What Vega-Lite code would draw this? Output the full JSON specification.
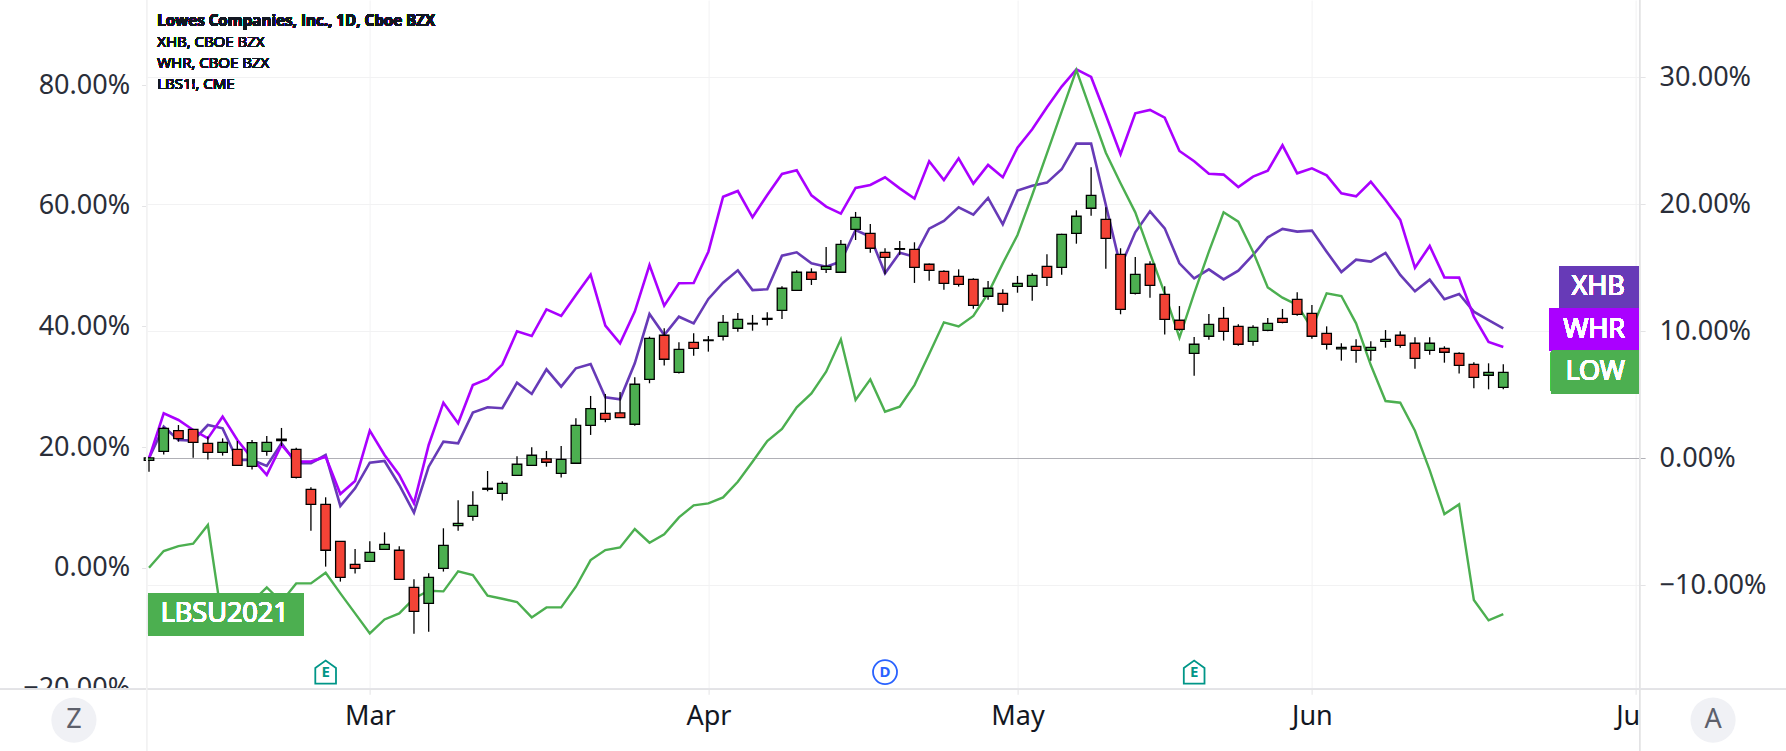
{"$schema":"https://vega.github.io/schema/vega-lite/v6.json","width":1493,"height":689.3,"autosize":{"type":"none"},"padding":{"left":146.6,"top":0,"right":146.4,"bottom":61.7},"background":"#ffffff","config":{"view":{"stroke":null},"font":"Noto Sans","axis":{"labelFont":"Noto Sans"}},"datasets":{"bars":[
{"bar":0,"date":"2021-02-05","open":-0.16,"high":0.08,"low":-1.05,"close":0.03,"xhb":0,"whr":0,"lbs":0},
{"bar":1,"date":"2021-02-08","open":0.55,"high":2.44,"low":0.29,"close":2.36,"xhb":2.49,"whr":3.54,"lbs":2.76},
{"bar":2,"date":"2021-02-09","open":2.18,"high":2.62,"low":1.31,"close":1.55,"xhb":1.44,"whr":3.02,"lbs":3.59},
{"bar":3,"date":"2021-02-10","open":2.28,"high":2.31,"low":0.05,"close":1.26,"xhb":1.39,"whr":2.23,"lbs":3.98},
{"bar":4,"date":"2021-02-11","open":1.18,"high":1.71,"low":-0.1,"close":0.47,"xhb":2.62,"whr":1.57,"lbs":7.08},
{"bar":5,"date":"2021-02-12","open":0.47,"high":1.57,"low":0.21,"close":1.26,"xhb":2.36,"whr":3.28,"lbs":-9.23},
{"bar":6,"date":"2021-02-16","open":0.71,"high":1.36,"low":-0.55,"close":-0.55,"xhb":-0.13,"whr":1.44,"lbs":-7.57},
{"bar":7,"date":"2021-02-17","open":-0.63,"high":1.44,"low":-0.89,"close":1.23,"xhb":-0.13,"whr":0,"lbs":-5.64},
{"bar":8,"date":"2021-02-18","open":0.55,"high":1.76,"low":0.21,"close":1.26,"xhb":-0.6,"whr":-1.31,"lbs":-3.26},
{"bar":9,"date":"2021-02-19","open":1.39,"high":2.39,"low":0.97,"close":1.5,"xhb":1.18,"whr":1.05,"lbs":-5.64},
{"bar":10,"date":"2021-02-22","open":0.71,"high":0.84,"low":-1.6,"close":-1.5,"xhb":-0.39,"whr":-0.26,"lbs":-2.6},
{"bar":11,"date":"2021-02-23","open":-2.44,"high":-2.28,"low":-5.7,"close":-3.62,"xhb":-0.39,"whr":-0.26,"lbs":-2.6},
{"bar":12,"date":"2021-02-24","open":-3.62,"high":-3.07,"low":-8.53,"close":-7.24,"xhb":0.26,"whr":0.13,"lbs":-0.83},
{"bar":13,"date":"2021-02-25","open":-6.54,"high":-6.54,"low":-9.71,"close":-9.37,"xhb":-3.75,"whr":-2.81,"lbs":-4.26},
{"bar":14,"date":"2021-02-26","open":-8.35,"high":-7.14,"low":-9.08,"close":-8.66,"xhb":-2.36,"whr":-1.78,"lbs":-7.57},
{"bar":15,"date":"2021-03-01","open":-8.11,"high":-6.54,"low":-8.11,"close":-7.4,"xhb":-0.34,"whr":2.18,"lbs":-10.89},
{"bar":16,"date":"2021-03-02","open":-7.17,"high":-5.83,"low":-7.17,"close":-6.77,"xhb":-0.21,"whr":0.26,"lbs":-8.57},
{"bar":17,"date":"2021-03-03","open":-7.24,"high":-6.93,"low":-9.53,"close":-9.53,"xhb":-2.1,"whr":-1.31,"lbs":-7.57},
{"bar":18,"date":"2021-03-04","open":-10.16,"high":-9.53,"low":-13.81,"close":-12.05,"xhb":-4.28,"whr":-3.54,"lbs":-5.09},
{"bar":19,"date":"2021-03-05","open":-11.42,"high":-9.06,"low":-13.65,"close":-9.37,"xhb":-0.66,"whr":1.05,"lbs":-3.81},
{"bar":20,"date":"2021-03-08","open":-8.66,"high":-5.51,"low":-8.92,"close":-6.85,"xhb":1.31,"whr":4.38,"lbs":-3.92},
{"bar":21,"date":"2021-03-09","open":-5.3,"high":-3.31,"low":-5.7,"close":-5.12,"xhb":1.18,"whr":2.76,"lbs":-0.61},
{"bar":22,"date":"2021-03-10","open":-4.57,"high":-2.6,"low":-4.91,"close":-3.7,"xhb":3.6,"whr":5.77,"lbs":-1.22},
{"bar":23,"date":"2021-03-11","open":-2.44,"high":-1,"low":-2.6,"close":-2.36,"xhb":4.02,"whr":6.25,"lbs":-4.64},
{"bar":24,"date":"2021-03-12","open":-2.76,"high":-1.81,"low":-3.33,"close":-1.97,"xhb":3.94,"whr":7.38,"lbs":-5.14},
{"bar":25,"date":"2021-03-15","open":-1.34,"high":0.16,"low":-1.34,"close":-0.47,"xhb":5.96,"whr":10,"lbs":-5.69},
{"bar":26,"date":"2021-03-16","open":-0.55,"high":0.87,"low":-0.55,"close":0.24,"xhb":5.07,"whr":9.63,"lbs":-8.24},
{"bar":27,"date":"2021-03-17","open":-0.05,"high":0.58,"low":-0.66,"close":-0.31,"xhb":7.01,"whr":11.73,"lbs":-6.58},
{"bar":28,"date":"2021-03-18","open":-1.18,"high":0.97,"low":-1.52,"close":-0.08,"xhb":5.64,"whr":11.21,"lbs":-6.58},
{"bar":29,"date":"2021-03-19","open":-0.39,"high":3.15,"low":-0.39,"close":2.6,"xhb":7.09,"whr":12.86,"lbs":-3.15},
{"bar":30,"date":"2021-03-22","open":2.6,"high":4.91,"low":1.84,"close":3.91,"xhb":7.43,"whr":14.46,"lbs":1.27},
{"bar":31,"date":"2021-03-23","open":3.54,"high":5.07,"low":2.83,"close":3.07,"xhb":4.8,"whr":10.45,"lbs":2.93},
{"bar":32,"date":"2021-03-24","open":3.57,"high":5.22,"low":3.2,"close":3.2,"xhb":4.65,"whr":9.06,"lbs":3.37},
{"bar":33,"date":"2021-03-25","open":2.68,"high":6.38,"low":2.57,"close":5.83,"xhb":7.48,"whr":11.55,"lbs":6.41},
{"bar":34,"date":"2021-03-26","open":6.22,"high":9.58,"low":5.91,"close":9.45,"xhb":11.36,"whr":15.22,"lbs":4.15},
{"bar":35,"date":"2021-03-29","open":9.69,"high":10.24,"low":7.3,"close":7.8,"xhb":9.71,"whr":12.02,"lbs":5.53},
{"bar":36,"date":"2021-03-30","open":6.77,"high":9.13,"low":6.67,"close":8.58,"xhb":11.15,"whr":13.78,"lbs":8.35},
{"bar":37,"date":"2021-03-31","open":9.13,"high":9.84,"low":8.08,"close":8.66,"xhb":10.63,"whr":13.81,"lbs":10.34},
{"bar":38,"date":"2021-04-01","open":9.27,"high":9.63,"low":8.4,"close":9.32,"xhb":12.55,"whr":16.27,"lbs":10.67},
{"bar":39,"date":"2021-04-05","open":9.61,"high":11.29,"low":9.27,"close":10.71,"xhb":13.83,"whr":20.6,"lbs":11.66},
{"bar":40,"date":"2021-04-06","open":10.24,"high":11.44,"low":9.97,"close":10.94,"xhb":14.8,"whr":21.05,"lbs":14.26},
{"bar":41,"date":"2021-04-07","open":10.58,"high":11.29,"low":10.05,"close":10.63,"xhb":13.25,"whr":18.98,"lbs":17.58},
{"bar":42,"date":"2021-04-08","open":10.94,"high":11.5,"low":10.45,"close":11.02,"xhb":13.31,"whr":20.74,"lbs":21.01},
{"bar":43,"date":"2021-04-09","open":11.65,"high":13.54,"low":10.97,"close":13.39,"xhb":15.96,"whr":22.39,"lbs":23},
{"bar":44,"date":"2021-04-12","open":13.23,"high":14.8,"low":13.23,"close":14.65,"xhb":16.22,"whr":22.68,"lbs":26.59},
{"bar":45,"date":"2021-04-13","open":14.65,"high":14.96,"low":13.65,"close":14.09,"xhb":15.35,"whr":20.71,"lbs":28.91},
{"bar":46,"date":"2021-04-14","open":14.88,"high":16.64,"low":14.59,"close":15.12,"xhb":15.09,"whr":19.82,"lbs":32.5},
{"bar":47,"date":"2021-04-15","open":14.65,"high":17.19,"low":14.65,"close":16.85,"xhb":15.49,"whr":19.27,"lbs":37.87},
{"bar":48,"date":"2021-04-16","open":18.03,"high":19.4,"low":17.19,"close":18.98,"xhb":17.98,"whr":21.29,"lbs":27.81},
{"bar":49,"date":"2021-04-19","open":17.72,"high":18.45,"low":16.19,"close":16.54,"xhb":17.45,"whr":21.52,"lbs":31.23},
{"bar":50,"date":"2021-04-20","open":16.22,"high":16.54,"low":14.49,"close":15.83,"xhb":14.57,"whr":22.13,"lbs":25.87},
{"bar":51,"date":"2021-04-21","open":16.46,"high":17.11,"low":16.01,"close":16.51,"xhb":16.19,"whr":21.26,"lbs":26.7},
{"bar":52,"date":"2021-04-22","open":16.46,"high":17.01,"low":13.81,"close":15.04,"xhb":15.88,"whr":20.45,"lbs":30.29},
{"bar":53,"date":"2021-04-23","open":15.28,"high":15.35,"low":13.99,"close":14.8,"xhb":18.08,"whr":23.39,"lbs":35.43},
{"bar":54,"date":"2021-04-26","open":14.72,"high":14.8,"low":13.28,"close":13.78,"xhb":18.69,"whr":21.92,"lbs":40.69},
{"bar":55,"date":"2021-04-27","open":14.33,"high":14.88,"low":13.52,"close":13.7,"xhb":19.76,"whr":23.62,"lbs":40.02},
{"bar":56,"date":"2021-04-28","open":14.09,"high":14.17,"low":11.78,"close":12.05,"xhb":19.19,"whr":21.63,"lbs":41.74},
{"bar":57,"date":"2021-04-29","open":12.76,"high":13.96,"low":12.49,"close":13.39,"xhb":20.5,"whr":23.1,"lbs":45.5},
{"bar":58,"date":"2021-04-30","open":12.99,"high":13.31,"low":11.55,"close":12.13,"xhb":18.43,"whr":22.13,"lbs":50.47},
{"bar":59,"date":"2021-05-03","open":13.54,"high":14.36,"low":13.04,"close":13.78,"xhb":21.08,"whr":24.46,"lbs":55.17},
{"bar":60,"date":"2021-05-04","open":13.54,"high":14.57,"low":12.41,"close":14.41,"xhb":21.47,"whr":25.91,"lbs":61.8},
{"bar":61,"date":"2021-05-05","open":15.12,"high":16.06,"low":13.57,"close":14.25,"xhb":21.71,"whr":27.64,"lbs":68.71},
{"bar":62,"date":"2021-05-06","open":15.04,"high":17.69,"low":14.46,"close":17.64,"xhb":22.76,"whr":29.27,"lbs":75.62},
{"bar":63,"date":"2021-05-07","open":17.72,"high":19.53,"low":16.9,"close":19.06,"xhb":24.78,"whr":30.63,"lbs":82.53},
{"bar":64,"date":"2021-05-10","open":19.69,"high":22.91,"low":19.11,"close":20.71,"xhb":24.78,"whr":30.03,"lbs":75.62},
{"bar":65,"date":"2021-05-11","open":18.82,"high":19.76,"low":14.93,"close":17.32,"xhb":19.95,"whr":27.03,"lbs":68.82},
{"bar":66,"date":"2021-05-12","open":16.06,"high":16.54,"low":11.34,"close":11.73,"xhb":15.09,"whr":23.94,"lbs":63.74},
{"bar":67,"date":"2021-05-13","open":12.99,"high":15.85,"low":12.89,"close":14.49,"xhb":17.8,"whr":27.17,"lbs":58.93},
{"bar":68,"date":"2021-05-14","open":15.28,"high":15.51,"low":12.65,"close":13.62,"xhb":19.45,"whr":27.43,"lbs":52.13},
{"bar":69,"date":"2021-05-17","open":12.91,"high":13.54,"low":9.74,"close":10.94,"xhb":18.11,"whr":26.82,"lbs":45.5},
{"bar":70,"date":"2021-05-18","open":10.87,"high":11.99,"low":10.05,"close":10.16,"xhb":15.35,"whr":24.2,"lbs":38.14},
{"bar":71,"date":"2021-05-19","open":8.27,"high":9.55,"low":6.51,"close":8.98,"xhb":14.17,"whr":23.39,"lbs":45.5},
{"bar":72,"date":"2021-05-20","open":9.61,"high":11.36,"low":9.34,"close":10.55,"xhb":14.88,"whr":22.41,"lbs":52.41},
{"bar":73,"date":"2021-05-21","open":11.02,"high":11.92,"low":9.27,"close":10,"xhb":14.09,"whr":22.34,"lbs":58.93},
{"bar":74,"date":"2021-05-24","open":10.39,"high":10.55,"low":8.87,"close":8.98,"xhb":14.78,"whr":21.36,"lbs":57.38},
{"bar":75,"date":"2021-05-25","open":9.21,"high":10.47,"low":8.87,"close":10.31,"xhb":16.01,"whr":22.18,"lbs":52.41},
{"bar":76,"date":"2021-05-26","open":10.08,"high":11.05,"low":10,"close":10.63,"xhb":17.4,"whr":22.65,"lbs":46.49},
{"bar":77,"date":"2021-05-27","open":11.02,"high":11.76,"low":10.63,"close":10.71,"xhb":18.06,"whr":24.65,"lbs":44.78},
{"bar":78,"date":"2021-05-28","open":12.52,"high":13.07,"low":11.23,"close":11.34,"xhb":17.85,"whr":22.44,"lbs":43.56},
{"bar":79,"date":"2021-06-01","open":11.42,"high":12.07,"low":9.42,"close":9.61,"xhb":17.93,"whr":22.83,"lbs":39.69},
{"bar":80,"date":"2021-06-02","open":9.84,"high":10.39,"low":8.56,"close":8.98,"xhb":16.27,"whr":22.28,"lbs":45.5},
{"bar":81,"date":"2021-06-03","open":8.61,"high":9.06,"low":7.69,"close":8.74,"xhb":14.67,"whr":20.87,"lbs":45.05},
{"bar":82,"date":"2021-06-04","open":8.82,"high":9.37,"low":7.53,"close":8.5,"xhb":15.64,"whr":20.63,"lbs":40.52},
{"bar":83,"date":"2021-06-07","open":8.5,"high":9.21,"low":7.69,"close":8.74,"xhb":15.49,"whr":21.78,"lbs":33.61},
{"bar":84,"date":"2021-06-08","open":9.21,"high":10.1,"low":8.71,"close":9.37,"xhb":16.17,"whr":20.34,"lbs":27.64},
{"bar":85,"date":"2021-06-09","open":9.69,"high":10,"low":8.71,"close":8.9,"xhb":14.44,"whr":18.77,"lbs":27.36},
{"bar":86,"date":"2021-06-10","open":9.06,"high":9.53,"low":7.06,"close":7.87,"xhb":13.15,"whr":15.01,"lbs":22.72},
{"bar":87,"date":"2021-06-11","open":8.5,"high":9.53,"low":8.16,"close":9.06,"xhb":14.07,"whr":16.72,"lbs":16.2},
{"bar":88,"date":"2021-06-14","open":8.66,"high":8.82,"low":7.53,"close":8.35,"xhb":12.52,"whr":14.25,"lbs":8.9},
{"bar":89,"date":"2021-06-15","open":8.27,"high":8.35,"low":6.67,"close":7.32,"xhb":12.94,"whr":14.23,"lbs":10.5},
{"bar":90,"date":"2021-06-16","open":7.4,"high":7.56,"low":5.51,"close":6.38,"xhb":11.55,"whr":11.15,"lbs":-5.36},
{"bar":91,"date":"2021-06-17","open":6.54,"high":7.48,"low":5.43,"close":6.77,"xhb":10.89,"whr":9.16,"lbs":-8.73},
{"bar":92,"date":"2021-06-18","open":5.59,"high":7.4,"low":5.43,"close":6.77,"xhb":10.24,"whr":8.77,"lbs":-7.68}
],"events":[{"bar":12,"kind":"E"},{"bar":50,"kind":"D"},{"bar":71,"kind":"E"}]},
"data":{"name":"bars"},
"resolve":{"scale":{"y":"independent"},"axis":{"y":"independent"}},
"layer":[
{"mark":{"type":"line","color":"#673AB7","strokeWidth":2.6},"encoding":{"x":{"field":"bar","type":"quantitative","title":null,"scale":{"domain":[-0.163,101.26],"nice":false,"zero":false,"padding":0},"axis":{"orient":"bottom","values":[15,38,59,79,101],"domain":false,"grid":true,"gridColor":"#f2f2f3","gridWidth":1,"ticks":true,"tickColor":"#e3e3e5","tickSize":5,"labelFontSize":27,"labelColor":"#131722","labelPadding":9,"labelFlush":false,"labelOverlap":false,"labelBound":false,"labelAlign":{"condition":{"test":"datum.value===101","value":"right"},"value":"center"},"labelOffset":{"condition":{"test":"datum.value===101","value":4},"value":0},"labelExpr":"datum.value===15?'Mar':datum.value===38?'Apr':datum.value===59?'May':datum.value===79?'Jun':'Ju'"}},"y":{"field":"xhb","type":"quantitative","title":null,"scale":{"domain":[-18.19,36.09],"nice":false,"zero":false},"axis":{"orient":"right","values":[30,20,10,0,-10],"domain":false,"grid":true,"gridColor":{"condition":{"test":"datum.value===0","value":"#b0b0b6"},"value":"#f2f2f3"},"gridWidth":1,"tickColor":{"condition":{"test":"datum.value===0","value":"#b0b0b6"},"value":"#e3e3e5"},"tickSize":5.5,"labelFontSize":27,"labelColor":"#2a2e39","labelPadding":14,"labelOverlap":false,"labelExpr":"replace(format(datum.value,'.2f'),'-','−')+'%'"}}}},
{"mark":{"type":"line","color":"#AA00FF","strokeWidth":2.6},"encoding":{"x":{"field":"bar","type":"quantitative"},"y":{"field":"whr","type":"quantitative","scale":{"domain":[-18.19,36.09],"nice":false,"zero":false},"axis":null}}},
{"mark":{"type":"line","color":"#4CAF50","strokeWidth":2.4},"encoding":{"x":{"field":"bar","type":"quantitative"},"y":{"field":"lbs","type":"quantitative","title":null,"scale":{"domain":[-20.16,94.14],"nice":false,"zero":false},"axis":{"orient":"left","values":[80,60,40,20,0,-20],"domain":false,"grid":false,"tickColor":"#e3e3e5","tickSize":5,"labelFontSize":27,"labelColor":"#2a2e39","labelPadding":12,"labelOverlap":false,"labelExpr":"replace(format(datum.value,'.2f'),'-','−')+'%'"}}}},
{"mark":{"type":"rule","color":"#000000","strokeWidth":1.3},"encoding":{"x":{"field":"bar","type":"quantitative"},"y":{"field":"low","type":"quantitative","scale":{"domain":[-18.19,36.09],"nice":false,"zero":false},"axis":null},"y2":{"field":"high"}}},
{"mark":{"type":"bar","size":9.5,"stroke":"#000000","strokeWidth":1.3},"encoding":{"x":{"field":"bar","type":"quantitative"},"y":{"field":"open","type":"quantitative","scale":{"domain":[-18.19,36.09],"nice":false,"zero":false},"axis":null},"y2":{"field":"close"},"color":{"condition":{"test":"datum.close>=datum.open","value":"#4CAF50"},"value":"#F44336"}}},
{"mark":{"type":"rect","color":"#673AB7","cornerRadiusTopLeft":2,"cornerRadiusBottomLeft":2},"encoding":{"x":{"datum":95.79,"type":"quantitative"},"x2":{"datum":101.26},"y":{"datum":15.14,"type":"quantitative","scale":{"domain":[-18.19,36.09],"nice":false,"zero":false},"axis":null},"y2":{"datum":11.83}}},
{"mark":{"type":"rect","color":"#AA00FF","cornerRadiusTopLeft":2,"cornerRadiusBottomLeft":2},"encoding":{"x":{"datum":95.11,"type":"quantitative"},"x2":{"datum":101.26},"y":{"datum":11.83,"type":"quantitative","scale":{"domain":[-18.19,36.09],"nice":false,"zero":false},"axis":null},"y2":{"datum":8.47}}},
{"mark":{"type":"rect","color":"#4CAF50","cornerRadiusTopLeft":2,"cornerRadiusBottomLeft":2},"encoding":{"x":{"datum":95.24,"type":"quantitative"},"x2":{"datum":101.26},"y":{"datum":8.47,"type":"quantitative","scale":{"domain":[-18.19,36.09],"nice":false,"zero":false},"axis":null},"y2":{"datum":5.09}}},
{"mark":{"type":"text","color":"#ffffff","fontSize":27,"align":"center","baseline":"middle"},"encoding":{"text":{"value":"XHB"},"x":{"datum":98.44,"type":"quantitative"},"y":{"datum":13.49,"type":"quantitative","scale":{"domain":[-18.19,36.09],"nice":false,"zero":false},"axis":null}}},
{"mark":{"type":"text","color":"#ffffff","fontSize":27,"align":"center","baseline":"middle"},"encoding":{"text":{"value":"WHR"},"x":{"datum":98.17,"type":"quantitative"},"y":{"datum":10.14,"type":"quantitative","scale":{"domain":[-18.19,36.09],"nice":false,"zero":false},"axis":null}}},
{"mark":{"type":"text","color":"#ffffff","fontSize":27,"align":"center","baseline":"middle"},"encoding":{"text":{"value":"LOW"},"x":{"datum":98.24,"type":"quantitative"},"y":{"datum":6.8,"type":"quantitative","scale":{"domain":[-18.19,36.09],"nice":false,"zero":false},"axis":null}}},
{"mark":{"type":"text","color":"#131722","font":"Open Sans","fontSize":15.2,"fontWeight":"bold","align":"left","baseline":"middle"},"encoding":{"text":{"value":"Lowes Companies, Inc., 1D, Cboe BZX"},"x":{"datum":0.56,"type":"quantitative"},"y":{"datum":34.46,"type":"quantitative","scale":{"domain":[-18.19,36.09],"nice":false,"zero":false},"axis":null}}},
{"mark":{"type":"text","color":"#131722","font":"Open Sans","fontSize":15,"fontWeight":"normal","align":"left","baseline":"middle"},"encoding":{"text":{"value":"XHB, CBOE BZX"},"x":{"datum":0.56,"type":"quantitative"},"y":{"datum":32.8,"type":"quantitative","scale":{"domain":[-18.19,36.09],"nice":false,"zero":false},"axis":null}}},
{"mark":{"type":"text","color":"#131722","font":"Open Sans","fontSize":15,"fontWeight":"normal","align":"left","baseline":"middle"},"encoding":{"text":{"value":"WHR, CBOE BZX"},"x":{"datum":0.56,"type":"quantitative"},"y":{"datum":31.15,"type":"quantitative","scale":{"domain":[-18.19,36.09],"nice":false,"zero":false},"axis":null}}},
{"mark":{"type":"text","color":"#131722","font":"Open Sans","fontSize":15,"fontWeight":"normal","align":"left","baseline":"middle"},"encoding":{"text":{"value":"LBS1!, CME"},"x":{"datum":0.56,"type":"quantitative"},"y":{"datum":29.5,"type":"quantitative","scale":{"domain":[-18.19,36.09],"nice":false,"zero":false},"axis":null}}},
{"mark":{"type":"rect","color":"#4CAF50","cornerRadius":2},"encoding":{"x":{"datum":-0.07,"type":"quantitative"},"x2":{"datum":10.5},"y":{"datum":-4.2,"type":"quantitative","scale":{"domain":[-20.16,94.14],"nice":false,"zero":false},"axis":null},"y2":{"datum":-11.33}}},
{"mark":{"type":"text","color":"#ffffff","fontSize":27,"align":"center","baseline":"middle"},"encoding":{"text":{"value":"LBSU2021"},"x":{"datum":5.14,"type":"quantitative"},"y":{"datum":-7.68,"type":"quantitative","scale":{"domain":[-20.16,94.14],"nice":false,"zero":false},"axis":null}}},
{"data":{"name":"events"},"transform":[{"filter":"datum.kind==='E'"}],"mark":{"type":"point","filled":false,"fill":"#ffffff","fillOpacity":1,"stroke":"#009688","strokeWidth":1.8,"size":529,"shape":"M-0.9 -0.35 L0 -1 L0.9 -0.35 L0.9 1 L-0.9 1 Z"},"encoding":{"x":{"field":"bar","type":"quantitative"},"y":{"datum":-17.3,"type":"quantitative","scale":{"domain":[-20.16,94.14],"nice":false,"zero":false},"axis":null}}},
{"data":{"name":"events"},"transform":[{"filter":"datum.kind==='D'"}],"mark":{"type":"point","filled":false,"fill":"#ffffff","fillOpacity":1,"stroke":"#2962FF","strokeWidth":1.8,"size":576,"shape":"circle"},"encoding":{"x":{"field":"bar","type":"quantitative"},"y":{"datum":-17.3,"type":"quantitative","scale":{"domain":[-20.16,94.14],"nice":false,"zero":false},"axis":null}}},
{"data":{"name":"events"},"mark":{"type":"text","fontSize":15,"fontWeight":"bold","align":"center","baseline":"middle"},"encoding":{"text":{"field":"kind"},"x":{"field":"bar","type":"quantitative"},"y":{"datum":-17.3,"type":"quantitative","scale":{"domain":[-20.16,94.14],"nice":false,"zero":false},"axis":null},"color":{"condition":{"test":"datum.kind==='E'","value":"#009688"},"value":"#2962FF"}}},
{"mark":{"type":"rect","color":"#ffffff"},"encoding":{"x":{"datum":-10.2,"type":"quantitative"},"x2":{"datum":-0.4},"y":{"datum":-20.2,"type":"quantitative","scale":{"domain":[-20.16,94.14],"nice":false,"zero":false},"axis":null},"y2":{"datum":-22.6}}},
{"mark":{"type":"rule","color":"#e3e3e5","strokeWidth":1.3},"encoding":{"x":{"datum":-10.13,"type":"quantitative"},"x2":{"datum":111.2},"y":{"datum":-20.16,"type":"quantitative","scale":{"domain":[-20.16,94.14],"nice":false,"zero":false},"axis":null}}},
{"mark":{"type":"rule","color":"#f2f2f3","strokeWidth":1},"encoding":{"x":{"datum":-0.163,"type":"quantitative"},"y":{"datum":94.14,"type":"quantitative","scale":{"domain":[-20.16,94.14],"nice":false,"zero":false},"axis":null},"y2":{"datum":-30.4}}},
{"mark":{"type":"rule","color":"#e3e3e5","strokeWidth":1},"encoding":{"x":{"datum":101.26,"type":"quantitative"},"y":{"datum":94.14,"type":"quantitative","scale":{"domain":[-20.16,94.14],"nice":false,"zero":false},"axis":null},"y2":{"datum":-30.4}}},
{"data":{"values":[{"button":"Z","bar":-5.1},{"button":"A","bar":106.25}]},"mark":{"type":"point","filled":true,"color":"#f0f1f5","opacity":1,"size":2040,"shape":"circle"},"encoding":{"x":{"field":"bar","type":"quantitative"},"y":{"datum":-25.26,"type":"quantitative","scale":{"domain":[-20.16,94.14],"nice":false,"zero":false},"axis":null}}},
{"data":{"values":[{"button":"Z","bar":-5.1},{"button":"A","bar":106.25}]},"mark":{"type":"text","color":"#5d606b","fontSize":27,"align":"center","baseline":"middle"},"encoding":{"text":{"field":"button"},"x":{"field":"bar","type":"quantitative"},"y":{"datum":-25.26,"type":"quantitative","scale":{"domain":[-20.16,94.14],"nice":false,"zero":false},"axis":null}}}
]}
